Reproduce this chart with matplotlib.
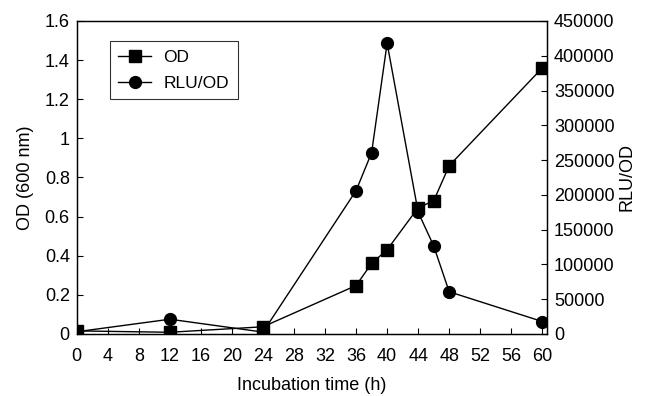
import matplotlib
matplotlib.use("Agg")
import matplotlib.pyplot as plt

plt.rcParams['font.family'] = ['Liberation Sans', 'DejaVu Sans']

# incubation time (h)
time_h = [0, 12, 24, 36, 38, 40, 44, 46, 48, 60]
od = [0.015, 0.008, 0.036, 0.247, 0.36, 0.43, 0.645, 0.68, 0.86, 1.36]
rlu_od = [3000, 21000, 2500, 206000, 260500, 418000, 175000, 126500, 60500, 17700]

x_ticks = list(range(0, 61, 4))
od_ticks = [0, 0.2, 0.4, 0.6, 0.8, 1, 1.2, 1.4, 1.6]
od_labels = ["0", "0.2", "0.4", "0.6", "0.8", "1", "1.2", "1.4", "1.6"]
rlu_ticks = list(range(0, 450001, 50000))

fig = plt.figure(figsize=(6.45, 3.96), dpi=100)
ax = fig.add_axes([0.119, 0.157, 0.729, 0.79])
ax2 = ax.twinx()

l1, = ax.plot(time_h, od, color="black", lw=1, marker="s", ms=8.5, label="OD")
l2, = ax2.plot(time_h, rlu_od, color="black", lw=1, marker="o", ms=8.5, label="RLU/OD")

ax.set_xlim(0, 60.6)
ax.set_ylim(0, 1.6)
ax2.set_ylim(0, 450000)
ax.set_xticks(x_ticks)
ax.set_yticks(od_ticks)
ax.set_yticklabels(od_labels)
ax2.set_yticks(rlu_ticks)
ax2.set_yticklabels([str(v) for v in rlu_ticks])

for a in (ax, ax2):
    a.tick_params(direction="in", length=4, width=0.8, labelsize=13, pad=5)
    for s in a.spines.values():
        s.set_linewidth(0.9)
ax.tick_params(axis="x", pad=10)

ax.set_xlabel("Incubation time (h)", fontsize=13, labelpad=9)
ax.set_ylabel("OD (600 nm)", fontsize=13, labelpad=8)
ax2.set_ylabel("RLU/OD", fontsize=13, labelpad=3)

leg = ax.legend(handles=[l1, l2], loc="upper left", bbox_to_anchor=(0.07, 0.935),
                borderaxespad=0, fontsize=12.5, frameon=True, fancybox=False,
                edgecolor="black", handlelength=1.9, handletextpad=0.7,
                borderpad=0.5, labelspacing=0.6)
leg.get_frame().set_linewidth(0.8)

fig.savefig("out.png", dpi=100)
